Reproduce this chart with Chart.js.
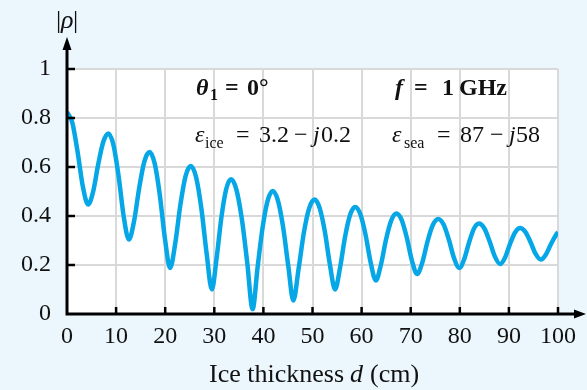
<!DOCTYPE html>
<html>
<head>
<meta charset="utf-8">
<script src="https://cdn.jsdelivr.net/npm/chart.js@4.4.1/dist/chart.umd.min.js"></script>
<style>
  body { margin: 0; background: #ebf6fd; }
  canvas { display: block; }
</style>
</head>
<body>
<canvas id="rhoChart" width="587" height="390"></canvas>
<script>
// ice thickness d (cm) and |rho|
const thickness = [
    0, 1.08, 2.15, 3.23, 4.3, 5.33, 6.35, 7.38, 8.4, 9.45,
    10.5, 11.55, 12.6, 13.65, 14.7, 15.75, 16.8, 17.85, 18.9, 19.95,
    21.0, 22.05, 23.1, 24.15, 25.2, 26.28, 27.35, 28.43, 29.5, 30.48,
    31.45, 32.43, 33.4, 34.5, 35.6, 36.7, 37.8, 38.83, 39.85, 40.88,
    41.9, 42.95, 44.0, 45.05, 46.1, 47.18, 48.25, 49.33, 50.4, 51.45,
    52.5, 53.55, 54.6, 55.63, 56.65, 57.68, 58.7, 59.75, 60.8, 61.85,
    62.9, 63.95, 65.0, 66.05, 67.1, 68.15, 69.2, 70.25, 71.3, 72.38,
    73.45, 74.53, 75.6, 76.68, 77.75, 78.83, 79.9, 80.9, 81.9, 82.9,
    83.9, 84.98, 86.05, 87.13, 88.2, 89.23, 90.25, 91.28, 92.3, 93.35,
    94.4, 95.45, 96.5, 97.55, 98.6, 99.65, 100
];
const rho = [
    0.825, 0.781, 0.663, 0.520, 0.447, 0.500, 0.610, 0.702, 0.737, 0.691,
    0.564, 0.398, 0.304, 0.378, 0.514, 0.622, 0.661, 0.615, 0.486, 0.307,
    0.188, 0.289, 0.447, 0.563, 0.604, 0.559, 0.433, 0.249, 0.100, 0.230,
    0.395, 0.510, 0.550, 0.508, 0.389, 0.211, 0.020, 0.193, 0.355, 0.464,
    0.502, 0.464, 0.357, 0.199, 0.055, 0.186, 0.333, 0.432, 0.467, 0.433,
    0.338, 0.201, 0.100, 0.191, 0.317, 0.406, 0.437, 0.407, 0.324, 0.210,
    0.137, 0.202, 0.306, 0.382, 0.410, 0.384, 0.312, 0.218, 0.163, 0.211,
    0.298, 0.364, 0.388, 0.366, 0.305, 0.228, 0.188, 0.224, 0.293, 0.349,
    0.369, 0.350, 0.298, 0.235, 0.204, 0.231, 0.287, 0.334, 0.351, 0.335,
    0.294, 0.245, 0.222, 0.243, 0.287, 0.325, 0.335
];
const xTicks = [0, 10, 20, 30, 40, 50, 60, 70, 80, 90, 100];
const yTicks = [0, 0.2, 0.4, 0.6, 0.8, 1];
const yTickLabels = ['0', '0.2', '0.4', '0.6', '0.8', '1'];

const SERIF = '"Liberation Serif", "Times New Roman", serif';
const GRID = '#d9d9d9';

// draws a row of text pieces: [text, font, x, baselineShift]
function drawPieces(ctx, y, pieces) {
    pieces.forEach(p => {
        ctx.font = p[1];
        ctx.fillText(p[0], p[2], y + (p[3] || 0));
    });
}

const figurePlugin = {
    id: 'figure',
    beforeDraw(chart) {
        const a = chart.chartArea;
        const ctx = chart.ctx;
        ctx.save();
        ctx.fillStyle = '#ffffff';
        ctx.fillRect(a.left, a.top, a.right - a.left, a.bottom - a.top);
        ctx.restore();
    },
    afterDraw(chart) {
        const ctx = chart.ctx;
        const a = chart.chartArea;
        const xs = chart.scales.x;
        const ys = chart.scales.y;
        ctx.save();
        ctx.strokeStyle = '#000';
        ctx.fillStyle = '#000';

        // inward tick marks
        ctx.lineWidth = 2.5;
        yTicks.slice(1).forEach(v => {
            const py = ys.getPixelForValue(v);
            ctx.beginPath();
            ctx.moveTo(a.left, py);
            ctx.lineTo(a.left + 8, py);
            ctx.stroke();
        });
        xTicks.slice(1).forEach(v => {
            const px = xs.getPixelForValue(v);
            ctx.beginPath();
            ctx.moveTo(px, a.bottom);
            ctx.lineTo(px, a.bottom - 7);
            ctx.stroke();
        });

        // axes with arrows
        ctx.lineWidth = 3;
        ctx.beginPath();
        ctx.moveTo(a.left, a.bottom + 1.5);
        ctx.lineTo(a.left, 46);
        ctx.moveTo(a.left - 1.5, a.bottom);
        ctx.lineTo(578, a.bottom);
        ctx.stroke();
        ctx.beginPath();
        ctx.moveTo(a.left, 37);
        ctx.lineTo(a.left - 4.5, 50);
        ctx.lineTo(a.left + 4.5, 50);
        ctx.closePath();
        ctx.fill();
        ctx.beginPath();
        ctx.moveTo(586, a.bottom);
        ctx.lineTo(574, a.bottom - 4.5);
        ctx.lineTo(574, a.bottom + 4.5);
        ctx.closePath();
        ctx.fill();

        // axis titles
        ctx.textAlign = 'left';
        ctx.textBaseline = 'alphabetic';
        ctx.fillStyle = '#111';
        drawPieces(ctx, 28, [
            ['|', '26px ' + SERIF, 56],
            ['\u03C1', 'italic 26px ' + SERIF, 61],
            ['|', '26px ' + SERIF, 73]
        ]);
        drawPieces(ctx, 382, [
            ['Ice thickness', '26px ' + SERIF, 209],
            ['d', 'italic 26px ' + SERIF, 350],
            ['(cm)', '26px ' + SERIF, 370]
        ]);

        // annotations
        const B = 'bold 24px ' + SERIF;
        const BI = 'bold italic 24px ' + SERIF;
        drawPieces(ctx, 95, [
            ['\u03B8', BI, 196],
            ['1', 'bold 16px ' + SERIF, 210, 5],
            ['=', B, 225],
            ['0\u00B0', B, 247],
            ['f', BI, 395],
            ['=', B, 414],
            ['1', B, 442],
            ['GHz', B, 459]
        ]);
        const R = '24px ' + SERIF;
        const S = '16px ' + SERIF;
        const I = 'italic 24px ' + SERIF;
        drawPieces(ctx, 142, [
            ['\u03B5', I, 195],
            ['ice', S, 205, 6],
            ['=', R, 236],
            ['3.2', R, 259],
            ['\u2212', R, 294],
            ['j', I, 313],
            ['0.2', R, 321],
            ['\u03B5', I, 392],
            ['sea', S, 404, 6],
            ['=', R, 437],
            ['87', R, 460],
            ['\u2212', R, 490],
            ['j', I, 509],
            ['58', R, 516]
        ]);
        ctx.restore();
    }
};

new Chart(document.getElementById('rhoChart'), {
    type: 'line',
    data: {
        datasets: [{
            data: thickness.map((d, i) => ({ x: d, y: rho[i] })),
            borderColor: '#05a7e6',
            borderWidth: 4.5,
            pointRadius: 0,
            cubicInterpolationMode: 'monotone',
            fill: false
        }]
    },
    options: {
        responsive: false,
        animation: false,
        layout: { padding: { top: 69, right: 29, left: 0, bottom: 0 } },
        plugins: {
            legend: { display: false },
            tooltip: { enabled: false }
        },
        scales: {
            x: {
                type: 'linear',
                min: 0,
                max: 100,
                afterBuildTicks: s => { s.ticks = xTicks.map(v => ({ value: v })); },
                afterFit: s => { s.height = 76; },
                border: { display: false },
                grid: {
                    drawTicks: false,
                    lineWidth: 2,
                    color: c => (c.tick && c.tick.value === 0) ? 'rgba(0,0,0,0)' : GRID
                },
                ticks: {
                    padding: 8,
                    color: '#111',
                    maxRotation: 0,
                    font: { family: SERIF, size: 24 }
                }
            },
            y: {
                min: 0,
                max: 1,
                afterBuildTicks: s => { s.ticks = yTicks.map(v => ({ value: v })); },
                afterFit: s => { s.width = 67; },
                border: { display: false },
                grid: {
                    drawTicks: false,
                    lineWidth: 2,
                    color: c => (c.tick && c.tick.value === 0) ? 'rgba(0,0,0,0)' : GRID
                },
                ticks: {
                    padding: 16,
                    color: '#111',
                    font: { family: SERIF, size: 24 },
                    callback: (v, i) => yTickLabels[i]
                }
            }
        }
    },
    plugins: [figurePlugin]
});
</script>
</body>
</html>
